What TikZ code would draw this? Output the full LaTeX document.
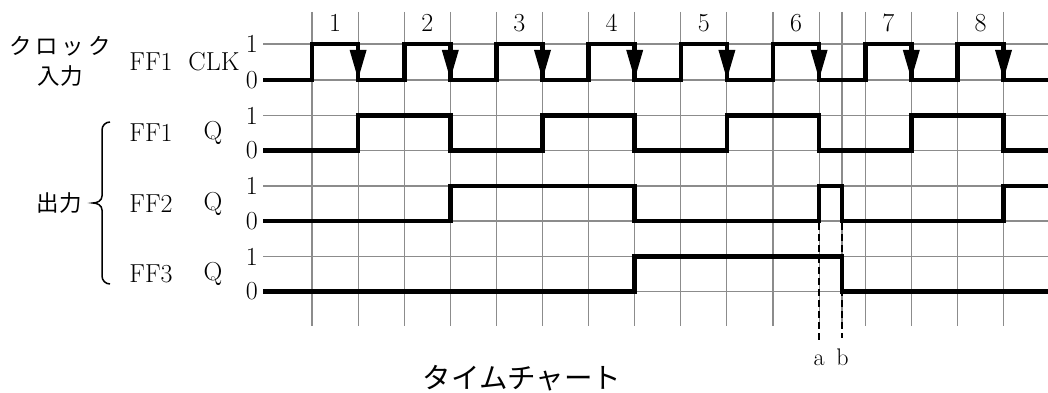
\documentclass[tikz,border=0pt]{standalone}
\usepackage{fontspec}
\newfontfamily\jp{Noto Sans CJK JP}
\begin{document}
\begin{tikzpicture}[x=1pt,y=-1pt,
  gridline/.style={draw=black!45, line width=1.1pt},
  sig/.style={line width=4.6pt, line join=miter},
  lbl/.style={font=\fontsize{26}{30}\selectfont, inner sep=0pt},
  jlbl/.style={font=\jp\fontsize{22.5}{30}\selectfont, inner sep=0pt, align=center},
  guide/.style={line width=2.2pt, dash pattern=on 7pt off 4pt},
  ]
\useasboundingbox (0,0) rectangle (1048,393);
% grid
\foreach \y in {44,80,115.5,150.5,186,221,256.5,291.5}
  \draw[gridline] (263,\y) -- (1048,\y);
\foreach \k in {0,...,15}
  \draw[gridline] ({312+46.1*\k},12) -- ({312+46.1*\k},326);
\draw[gridline] (842,12) -- (842,326);
% clock numbers
\foreach \i in {1,...,8}
  \node[lbl] (n\i) at ({312+46.1*(2*\i-2)+23.05},23) {\i};
% level labels
\foreach \r/\a/\b in {1/44/80,2/115.5/150.5,3/186/221,4/256.5/291.5}{
  \node[lbl, anchor=east] (h\r) at (258,\a) {1};
  \node[lbl, anchor=east] (l\r) at (258,\b) {0};
}
% row labels
\node[lbl] (ff1c) at (151,62) {FF1};
\node[lbl] (clk) at (214,62) {CLK};
\node[lbl] (ff1q) at (151,133) {FF1};
\node[lbl] (q1) at (213,133) {Q};
\node[lbl] (ff2q) at (151,203.5) {FF2};
\node[lbl] (q2) at (213,203.5) {Q};
\node[lbl] (ff3q) at (151,274) {FF3};
\node[lbl] (q3) at (213,274) {Q};
\node[jlbl] (clkin) at (60,61) {ク\,ロ\,ッ\,ク\\入力};
\node[jlbl] (out) at (59,203) {出力};
% brace
\draw[line width=1.5pt] (110,122) to[out=180,in=90] (102,130) -- (102,196)
  to[out=-90,in=0] (93,203) to[out=0,in=90] (102,210) -- (102,276)
  to[out=-90,in=180] (110,284);
% CLK
\draw[sig] (263,80) -- (312,80) -- (312,44) -- (358.1,44) -- (358.1,80) -- (404.2,80)
 -- (404.2,44) -- (450.3,44) -- (450.3,80) -- (496.4,80) -- (496.4,44) -- (542.5,44)
 -- (542.5,80) -- (588.6,80) -- (588.6,44) -- (634.7,44) -- (634.7,80) -- (680.8,80)
 -- (680.8,44) -- (726.9,44) -- (726.9,80) -- (773,80) -- (773,44) -- (819.1,44)
 -- (819.1,80) -- (865.2,80) -- (865.2,44) -- (911.3,44) -- (911.3,80) -- (957.4,80)
 -- (957.4,44) -- (1003.5,44) -- (1003.5,80) -- (1048,80);
\foreach \k in {1,3,...,15}
  \fill ({312+46.1*\k-8.5},50) -- ({312+46.1*\k+8.5},50) -- ({312+46.1*\k},79) -- cycle;
% FF1 Q
\draw[sig] (263,150.5) -- (358.1,150.5) -- (358.1,115.5) -- (450.3,115.5) -- (450.3,150.5)
 -- (542.5,150.5) -- (542.5,115.5) -- (634.7,115.5) -- (634.7,150.5) -- (726.9,150.5)
 -- (726.9,115.5) -- (819.1,115.5) -- (819.1,150.5) -- (911.3,150.5) -- (911.3,115.5)
 -- (1003.5,115.5) -- (1003.5,150.5) -- (1048,150.5);
% FF2 Q
\draw[sig] (263,221) -- (450.3,221) -- (450.3,186) -- (634.7,186) -- (634.7,221)
 -- (819.1,221) -- (819.1,186) -- (842,186) -- (842,221) -- (1003.5,221) -- (1003.5,186)
 -- (1048,186);
% FF3 Q
\draw[sig] (263,291.5) -- (634.7,291.5) -- (634.7,256.5) -- (842,256.5) -- (842,291.5)
 -- (1048,291.5);
% guides a, b
\node[lbl, font=\fontsize{24}{28}\selectfont, anchor=base] (a) at (819.1,365) {a};
\node[lbl, font=\fontsize{24}{28}\selectfont, anchor=base] (b) at (842.5,365) {b};
\coordinate (ta) at (819.1,223);
\coordinate (tb) at (842,223);
\draw[guide] (ta) -- (819.1,340);
\draw[guide] (tb) -- (842,338);
% title
\node[jlbl, font=\jp\fontsize{28.5}{32}\selectfont] (title) at (522,378) {タイムチャート};
\end{tikzpicture}
\end{document}
